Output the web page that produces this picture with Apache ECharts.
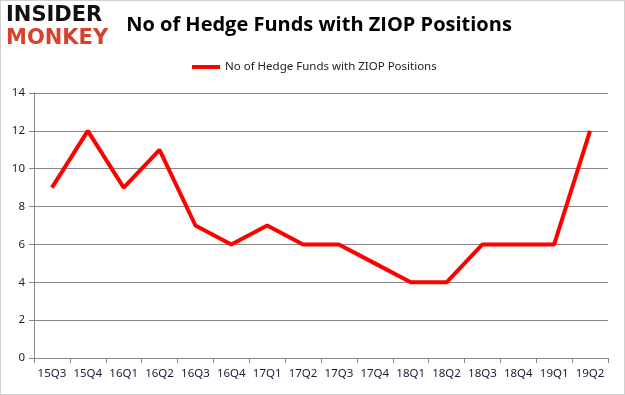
<!DOCTYPE html>
<html><head><meta charset="utf-8">
<script src="https://cdn.jsdelivr.net/npm/echarts@6/dist/echarts.min.js"></script>
<style>html,body{margin:0;padding:0;background:#fff}#c{width:625px;height:395px;box-sizing:border-box;border:1px solid #d0d0d0}</style>
</head><body><div id="c"></div>
<script>
const categories = ['15Q3','15Q4','16Q1','16Q2','16Q3','16Q4','17Q1','17Q2','17Q3','17Q4','18Q1','18Q2','18Q3','18Q4','19Q1','19Q2'];
const values = [9,12,9,11,7,6,7,6,6,5,4,4,6,6,6,12];
const seriesName = 'No of Hedge Funds with ZIOP Positions';
const titleText = 'No of Hedge Funds with ZIOP Positions';

const chart = echarts.init(document.getElementById('c'), null, {renderer:'canvas'});
chart.setOption({
  animation:false,
  title:{text:titleText,left:313,top:9,textAlign:'center',
    textStyle:{fontFamily:'Open Sans',fontWeight:'bold',fontSize:20,color:'#000'}},
  legend:{data:[seriesName],top:55,left:186,itemWidth:28,itemHeight:4,itemGap:6,
    icon:'rect',
    textStyle:{fontFamily:'Noto Sans',fontSize:11.5,color:'#222'}},
  graphic:[
    {type:'text',left:5,top:4,style:{text:'INSIDER',fontFamily:'DejaVu Sans',fontWeight:'bold',fontSize:21,fill:'#111',letterSpacing:0}},
    {type:'text',left:5,top:27,style:{text:'MONKEY',fontFamily:'DejaVu Sans',fontWeight:'bold',fontSize:21,fill:'#d8422c'}}
  ],
  grid:{left:33,right:16,top:92,bottom:36,containLabel:false},
  xAxis:{type:'category',data:categories,boundaryGap:true,
    axisLine:{lineStyle:{color:'#888',width:1}},
    axisTick:{show:true,interval:0,length:5,lineStyle:{color:'#888'}},
    axisLabel:{interval:0,margin:10,fontFamily:'Noto Sans',fontSize:11.5,color:'#1a1a3a'}},
  yAxis:{type:'value',min:0,max:14,interval:2,
    axisLine:{show:true,lineStyle:{color:'#888',width:1}},
    axisTick:{show:true,length:5,lineStyle:{color:'#888'}},
    splitLine:{lineStyle:{color:'#888',width:1}},
    axisLabel:{margin:9,fontFamily:'Noto Sans',fontSize:11.5,color:'#1a1a3a'}},
  series:[{name:seriesName,type:'line',data:values,showSymbol:false,
    lineStyle:{color:'#ff0000',width:4},itemStyle:{color:'#ff0000'}}]
});
</script></body></html>
